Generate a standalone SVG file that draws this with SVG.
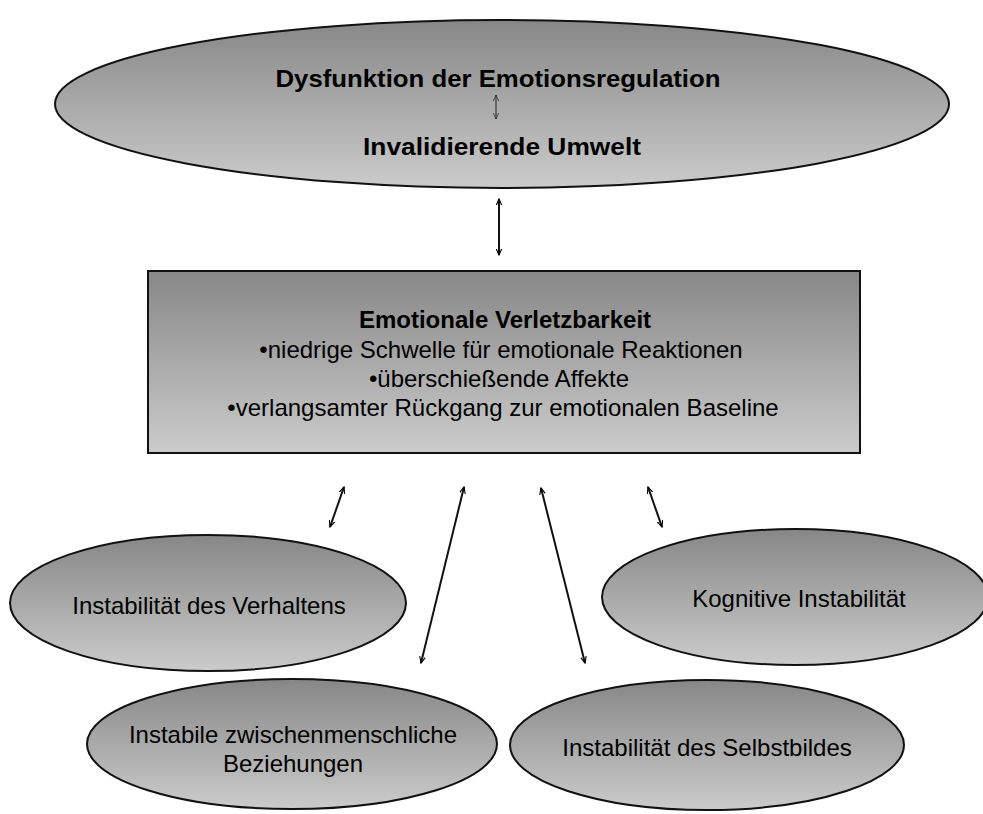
<svg xmlns="http://www.w3.org/2000/svg" width="983" height="814" viewBox="0 0 983 814">
<defs>
<linearGradient id="g" x1="0" y1="0" x2="0" y2="1">
<stop offset="0" stop-color="#878787"/>
<stop offset="1" stop-color="#cbcbcb"/>
</linearGradient>
<marker id="ah" viewBox="0 0 10 10" refX="9" refY="5" markerWidth="7" markerHeight="7" orient="auto-start-reverse" markerUnits="userSpaceOnUse">
<path d="M0,1 L9,5 L0,9" fill="none" stroke="#000" stroke-width="1.6"/>
</marker>
<marker id="ahs" viewBox="0 0 10 10" refX="9" refY="5" markerWidth="7" markerHeight="7" orient="auto-start-reverse" markerUnits="userSpaceOnUse">
<path d="M0,1 L9,5 L0,9" fill="none" stroke="#222" stroke-width="1"/>
</marker>
</defs>
<style>
.shape{fill:url(#g);stroke:#111;stroke-width:2}
.t{font-family:"Liberation Sans",Arial,sans-serif;font-size:24px;fill:#000;text-anchor:middle}
.b{font-weight:bold}
.c{fill:none;stroke:#111;stroke-width:2}
</style>
<rect width="983" height="814" fill="#fff"/>
<g id="top">
<ellipse class="shape" cx="502" cy="104" rx="447" ry="84"/>
<text class="t b" x="498" y="87" font-size="25" textLength="445" lengthAdjust="spacingAndGlyphs">Dysfunktion der Emotionsregulation</text>
<text class="t b" x="502" y="155" font-size="25" textLength="278" lengthAdjust="spacingAndGlyphs">Invalidierende Umwelt</text>
</g>
<g id="box">
<rect class="shape" x="148" y="271" width="712" height="182" stroke-width="2.5"/>
<text class="t b" x="505" y="328">Emotionale Verletzbarkeit</text>
<text class="t" x="501" y="358">•niedrige Schwelle für emotionale Reaktionen</text>
<text class="t" x="499" y="387">•überschießende Affekte</text>
<text class="t" x="503" y="416">•verlangsamter Rückgang zur emotionalen Baseline</text>
</g>
<g id="verhalten">
<ellipse class="shape" cx="208" cy="603" rx="198" ry="68"/>
<text class="t" x="209" y="614">Instabilität des Verhaltens</text>
</g>
<g id="kognitiv">
<ellipse class="shape" cx="795" cy="597" rx="193" ry="68"/>
<text class="t" x="799" y="607">Kognitive Instabilität</text>
</g>
<g id="beziehungen">
<ellipse class="shape" cx="292" cy="744" rx="205" ry="65"/>
<text class="t" x="293" y="743">Instabile zwischenmenschliche</text>
<text class="t" x="293" y="772">Beziehungen</text>
</g>
<g id="selbstbild">
<ellipse class="shape" cx="707" cy="745" rx="197" ry="65"/>
<text class="t" x="707" y="756">Instabilität des Selbstbildes</text>
</g>
<g id="connectors">
<line x1="496" y1="95" x2="496" y2="119" stroke="#222" stroke-width="1" marker-start="url(#ahs)" marker-end="url(#ahs)"/>
<line class="c" x1="499" y1="199" x2="499" y2="255" marker-start="url(#ah)" marker-end="url(#ah)"/>
<line class="c" x1="344" y1="487" x2="330" y2="527" marker-start="url(#ah)" marker-end="url(#ah)"/>
<line class="c" x1="464" y1="487" x2="421" y2="663" marker-start="url(#ah)" marker-end="url(#ah)"/>
<line class="c" x1="541" y1="488" x2="585" y2="663" marker-start="url(#ah)" marker-end="url(#ah)"/>
<line class="c" x1="648" y1="487" x2="662" y2="527" marker-start="url(#ah)" marker-end="url(#ah)"/>
</g>
</svg>
